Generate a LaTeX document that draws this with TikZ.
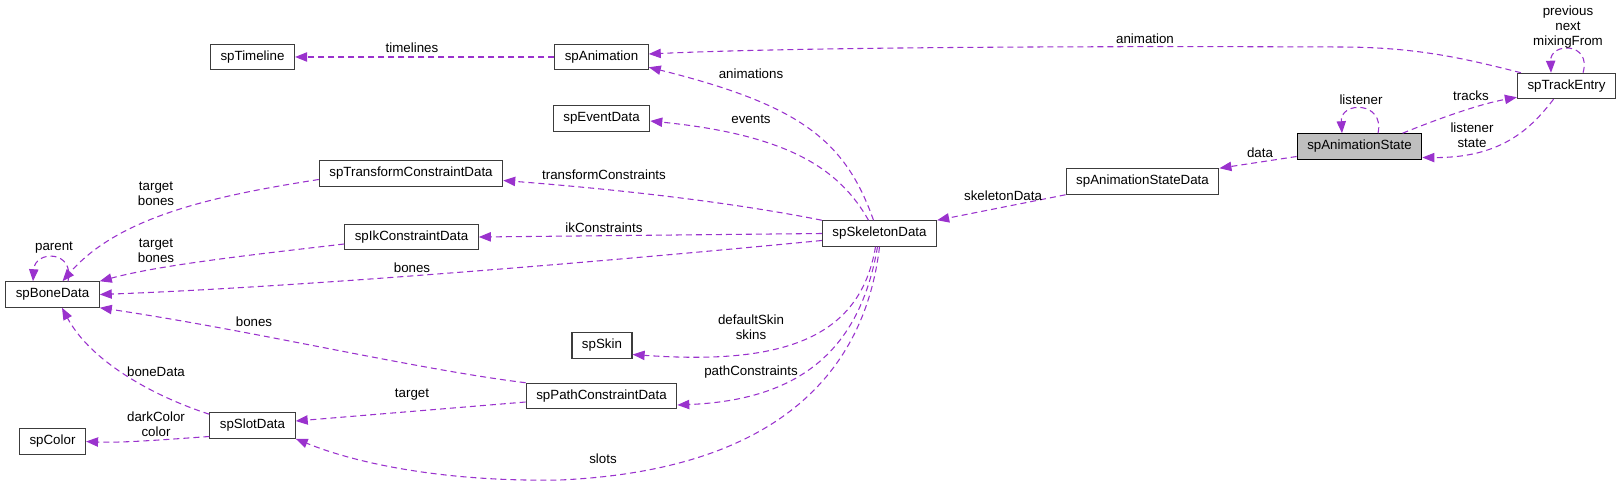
\documentclass[tikz,border=0pt]{standalone}
\usepackage{fontspec}
\setmainfont{Liberation Sans}
\usepackage{tikz}
\usetikzlibrary{calc, arrows.meta}
\definecolor{usecol}{RGB}{154,50,205}
\definecolor{boxcol}{RGB}{60,60,60}
\definecolor{maincol}{RGB}{191,191,191}

\begin{document}
\begin{tikzpicture}[x=0.75pt,y=-0.75pt,>={Triangle[length=9pt,width=7pt]},
  cls/.style={draw=boxcol,line width=.9pt,fill=white,inner xsep=7.5pt,inner ysep=0pt,minimum height=19pt,font=\fontsize{10}{11}\selectfont},
  mainCls/.style={cls,fill=maincol,draw=black},
  depLine/.style={->,usecol,line width=.8pt,dash pattern=on 4.5pt off 3pt},
  lbl/.style={inner sep=0pt,align=center,font=\fontsize{10}{11}\selectfont}]
\useasboundingbox (0,0) rectangle (1623,488);

\node [cls] (spTimeline) at (252.5,57) {spTimeline};
\node [cls] (spAnimation) at (601.5,57) {spAnimation};
\node [cls] (spEventData) at (601.5,118.5) {spEventData};
\node [cls] (spTransformConstraintData) at (411,173.5) {spTransformConstraintData};
\node [cls] (spIkConstraintData) at (411.5,237) {spIkConstraintData};
\node [cls] (spBoneData) at (52.5,294.5) {spBoneData};
\node [cls] (spSkin) at (602,345.5) {spSkin};
\node [cls] (spPathConstraintData) at (601.5,396) {spPathConstraintData};
\node [cls] (spSlotData) at (252.5,425.5) {spSlotData};
\node [cls] (spColor) at (52.5,441.5) {spColor};
\node [cls] (spSkeletonData) at (879.5,233.5) {spSkeletonData};
\node [cls] (spAnimationStateData) at (1142.5,181.5) {spAnimationStateData};
\node [mainCls] (spAnimationState) at (1359.5,146.5) {spAnimationState};
\node [cls] (spTrackEntry) at (1566.5,86) {spTrackEntry};

\draw [depLine] (spAnimation) -- (spTimeline);
\draw [depLine] ($ (spTrackEntry.north west) + (4,0) $) .. controls (1470,60) and (1420,47) .. (1340,47) .. controls (1100,46) and (800,47) .. ($ (spAnimation.east) + (0,-3) $);
\draw [depLine] ($ (spSkeletonData.north) + (-6,0) $) .. controls (845,140) and (800,105) .. ($ (spAnimation.south east) + (0,-3) $);
\draw [depLine] ($ (spSkeletonData.north) + (-11,0) $) .. controls (840,170) and (790,135) .. ($ (spEventData.east) + (0,2.5) $);
\draw [depLine] (spSkeletonData.north west) .. controls (720,200) and (600,188) .. ($ (spTransformConstraintData.east) + (0,7) $);
\draw [depLine] (spSkeletonData.west) -- (spIkConstraintData.east);
\draw [depLine] ($ (spSkeletonData.west) + (0,7) $) .. controls (600,262) and (300,287) .. (spBoneData.east);
\draw [depLine] ($ (spTransformConstraintData.west) + (0,6) $) .. controls (220,195) and (120,215) .. ($ (spBoneData.north) + (10,0) $);
\draw [depLine] ($ (spIkConstraintData.west) + (0,7) $) .. controls (250,255) and (160,265) .. (spBoneData.north east);
\draw [depLine] ($ (spBoneData.north) + (15.5,0) $) .. controls (75,250) and (35,250) .. ($ (spBoneData.north) + (-19.5,0) $);
\draw [depLine] (spPathConstraintData.north west) .. controls (420,370) and (250,330) .. (spBoneData.south east);
\draw [depLine] ($ (spPathConstraintData.west) + (0,6) $) -- ($ (spSlotData.east) + (0,-4.5) $);
\draw [depLine] ($ (spSlotData.north west) + (0,2) $) .. controls (150,395) and (90,360) .. ($ (spBoneData.south) + (9.5,0) $);
\draw [depLine] ($ (spSlotData.west) + (0,11) $) .. controls (160,440) and (120,443) .. (spColor.east);
\draw [depLine] ($ (spSkeletonData.south) + (-4,0) $) .. controls (860,340) and (780,365) .. ($ (spSkin.east) + (0,9) $);
\draw [depLine] ($ (spSkeletonData.south) + (-2,0) $) .. controls (860,350) and (800,400) .. ($ (spPathConstraintData.east) + (0,9) $);
\draw [depLine] (spSkeletonData.south) .. controls (865,370) and (780,470) .. (560,480) .. controls (450,482) and (360,465) .. (spSlotData.south east);
\draw [depLine] (spAnimationStateData.south west) -- (spSkeletonData.north east);
\draw [depLine] ($ (spAnimationState.west) + (0,10) $) -- (spAnimationStateData.north east);
\draw [depLine] ($ (spAnimationState.north) + (43,0) $) .. controls (1440,118) and (1480,104) .. ($ (spTrackEntry.south west) + (0,-2) $);
\draw [depLine] ($ (spTrackEntry.south) + (-13,0) $) .. controls (1530,130) and (1500,158) .. ($ (spAnimationState.east) + (0,11) $);
\draw [depLine] ($ (spAnimationState.north) + (18.5,0) $) .. controls (1385,101) and (1340,101) .. ($ (spAnimationState.north) + (-17.5,0) $);
\draw [depLine] ($ (spTrackEntry.north) + (16.5,0) $) .. controls (1592,42) and (1550,42) .. ($ (spTrackEntry.north) + (-15.5,0) $);

\node [lbl] (lTimelines) at (412,48) {timelines};
\node [lbl] (lAnimation) at (1145,39) {animation};
\node [lbl] (lAnimations) at (751,74) {animations};
\node [lbl] (lEvents) at (751,119) {events};
\node [lbl] (lTransform) at (604,175) {transformConstraints};
\node [lbl] (lIk) at (604,228) {ikConstraints};
\node [lbl] (lBonesSkel) at (412,268) {bones};
\node [lbl] (lTargetBonesT) at (156,194) {target\\bones};
\node [lbl] (lTargetBonesIk) at (156,251) {target\\bones};
\node [lbl] (lParent) at (54,248) {parent};
\node [lbl] (lBonesPath) at (254,322) {bones};
\node [lbl] (lTarget) at (412,395) {target};
\node [lbl] (lBoneData) at (156,372) {boneData};
\node [lbl] (lColor) at (156,424) {darkColor\\color};
\node [lbl] (lSkins) at (751,327) {defaultSkin\\skins};
\node [lbl] (lPath) at (751,372) {pathConstraints};
\node [lbl] (lSlots) at (603,459) {slots};
\node [lbl] (lSkeletonData) at (1003,196) {skeletonData};
\node [lbl] (lData) at (1260,153) {data};
\node [lbl] (lTracks) at (1471,96) {tracks};
\node [lbl] (lListenerState) at (1472,135) {listener\\state};
\node [lbl] (lListener) at (1361,100) {listener};
\node [lbl] (lTrackLoop) at (1568,27) {previous\\next\\mixingFrom};
\end{tikzpicture}
\end{document}
